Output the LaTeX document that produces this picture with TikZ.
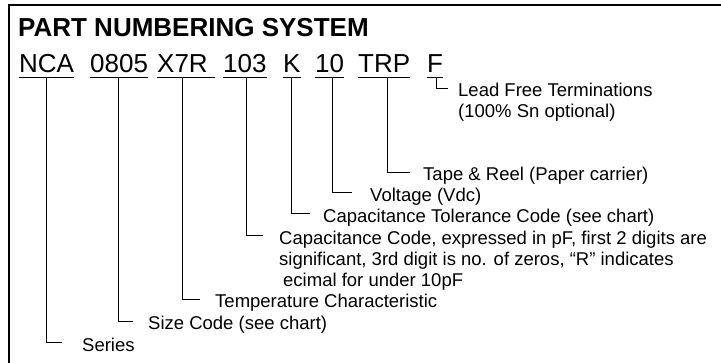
\documentclass[tikz,border=0pt]{standalone}
\usepackage{fontspec}
\setmainfont{Liberation Sans}
\begin{document}
\begin{tikzpicture}[x=1pt,y=-1pt,
  title/.style={inner sep=0pt, anchor=base west, font=\fontsize{26}{30}\selectfont\bfseries},
  pn/.style={inner sep=0pt, anchor=base west, font=\fontsize{26}{30}\selectfont},
  lbl/.style={inner sep=0pt, anchor=base west, font=\fontsize{18.5}{21}\selectfont},
  conn/.style={line width=0.9pt},
  uline/.style={line width=1.2pt},
  frame/.style={line width=2.4pt, line join=miter}]
\useasboundingbox (0,0) rectangle (721,363);
\draw[frame] (9,372) -- (9,5) -- (730,5);
\node[title] (ttl) at (18,37) {PART NUMBERING SYSTEM};
% part number fields
\node[pn] (nca) at (19,73) {NCA};
\node[pn] (size) at (90,73) {0805};
\node[pn] (x7r) at (157,73) {X7R};
\node[pn] (cap) at (223,73) {103};
\node[pn] (tol) at (283,73) {K};
\node[pn] (volt) at (315,73) {10};
\node[pn] (trp) at (358,73) {TRP};
\node[pn] (fin) at (427,73) {F};
\foreach \n in {nca,size,cap,tol,volt,trp,fin}{
  \draw[uline] ([yshift=-4.5pt]\n.base west) -- ([yshift=-4.5pt]\n.base east);
}
\draw[uline] ([yshift=-4.5pt]x7r.base west) -- ([xshift=7pt,yshift=-4.5pt]x7r.base east);
% tick ends
\coordinate (tfin) at (448,88);
\coordinate (ttrp) at (410,172);
\coordinate (tvolt) at (352,192);
\coordinate (ttol) at (310,213);
\coordinate (tcap) at (263,235);
\coordinate (tx7r) at (200,299);
\coordinate (tsize) at (133,321);
\coordinate (tnca) at (62,342);
% labels
\node[lbl] (lfin) at (458,97) {Lead Free Terminations};
\node[lbl] (lfin2) at (458,117.5) {(100\% Sn optional)};
\node[lbl] (ltrp) at (423,181) {Tape \& Reel (Paper carrier)};
\node[lbl] (lvolt) at (370,202) {Voltage (Vdc)};
\node[lbl] (ltol) at (323,223) {Capacitance Tolerance Code (see chart)};
\node[lbl] (lcap) at (279,245) {Capacitance Code, expressed in pF, first 2 digits are};
\node[lbl] (lcap2) at (279,266) {significant, 3rd digit is no. of zeros, “R” indicates};
\node[lbl] (lcap3) at (283,287) {ecimal for under 10pF};
\node[lbl] (lx7r) at (215,308) {Temperature Characteristic};
\node[lbl] (lsize) at (148,330) {Size Code (see chart)};
\node[lbl] (lnca) at (82,352) {Series};
% connectors
\draw[conn] ([yshift=-5pt]nca.base) |- (tnca);
\draw[conn] ([xshift=-1pt,yshift=-5pt]size.base) |- (tsize);
\draw[conn] ([yshift=-5pt]x7r.base) |- (tx7r);
\draw[conn] ([xshift=2pt,yshift=-5pt]cap.base) |- (tcap);
\draw[conn] ([yshift=-5pt]tol.base) |- (ttol);
\draw[conn] ([xshift=2.5pt,yshift=-5pt]volt.base) |- (tvolt);
\draw[conn] ([xshift=3pt,yshift=-5pt]trp.base) |- (ttrp);
\draw[conn] ([xshift=1pt,yshift=-5pt]fin.base) |- (tfin);
\end{tikzpicture}
\end{document}
